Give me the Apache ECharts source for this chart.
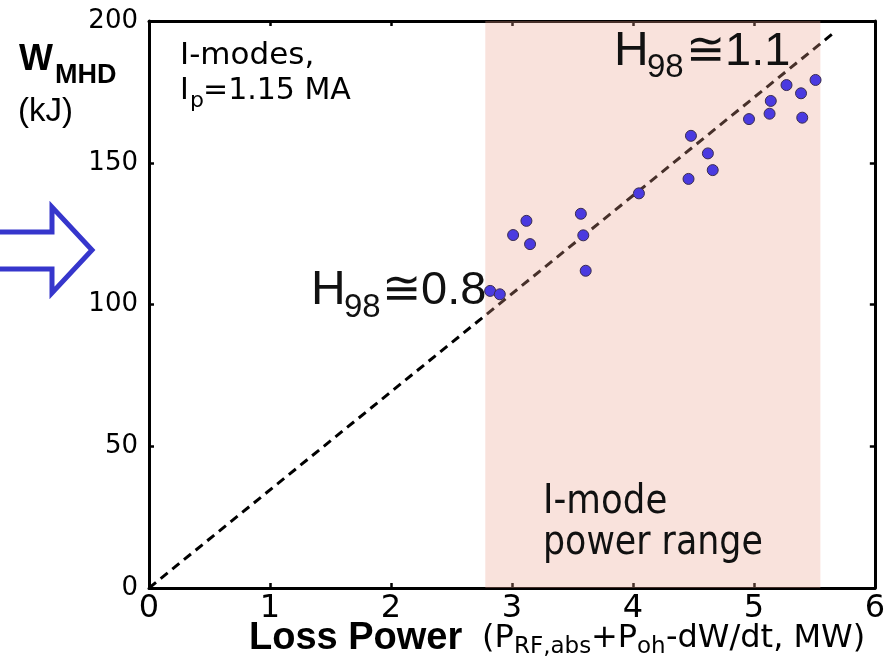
<!DOCTYPE html>
<html><head><meta charset="utf-8">
<script src="https://cdn.jsdelivr.net/npm/echarts@6/dist/echarts.min.js"></script>
<style>html,body{margin:0;padding:0;background:#fff}#c{width:888px;height:657px}</style>
</head><body><div id="c"></div>
<script>
// Data
const lossPower = [2.82, 2.90, 3.01, 3.12, 3.15, 3.57, 3.59, 3.61, 4.05, 4.46, 4.48, 4.62, 4.66, 4.96, 5.13, 5.14, 5.40, 5.27, 5.39, 5.51];
const wmhd      = [104.8, 103.6, 124.5, 129.5, 121.3, 132.0, 124.4, 111.9, 139.2, 144.3, 159.5, 153.3, 147.4, 165.4, 167.3, 171.8, 165.9, 177.4, 174.5, 179.2];
const fitX = [0, 5.68];
const fitY = [0, 196.5];
const shadeRange = [2.78, 5.55];
const xMin = 0, xMax = 6, xStep = 1;
const yMin = 0, yMax = 200, yStep = 50;

const chart = echarts.init(document.getElementById('c'));
const DV = 'DejaVu Sans';
const LS = 'Liberation Sans';
function axisCommon() {
  return {
    axisLine: {show: true, onZero: false, lineStyle: {color: '#000', width: 3}},
    axisTick: {show: true, inside: true, length: 5, lineStyle: {color: '#000', width: 2.5}},
    splitLine: {show: false}
  };
}
function txt(text, x, cy, font, size, opts) {
  opts = opts || {};
  return {
    type: 'text', z: 10, x: x, y: cy, scaleX: opts.sx || 1,
    style: {text: text, fontFamily: font, fontSize: size, fontWeight: opts.bold ? 'bold' : 'normal',
            fill: opts.fill || '#000', verticalAlign: 'middle', align: 'left'}
  };
}
chart.setOption({
  animation: false,
  backgroundColor: '#fff',
  grid: {left: 149, right: 7, top: 21, bottom: 69, containLabel: false},
  xAxis: [
    Object.assign({type: 'value', min: xMin, max: xMax, interval: xStep, position: 'bottom',
      axisLabel: {color: '#000', fontSize: 32, fontFamily: DV, margin: 5}}, axisCommon()),
    Object.assign({type: 'value', min: xMin, max: xMax, interval: xStep, position: 'top',
      axisLabel: {show: false}}, axisCommon())
  ],
  yAxis: [
    Object.assign({type: 'value', min: yMin, max: yMax, interval: yStep, position: 'left',
      axisLabel: {color: '#000', fontSize: 26, fontFamily: DV, margin: 11}}, axisCommon()),
    Object.assign({type: 'value', min: yMin, max: yMax, interval: yStep, position: 'right',
      axisLabel: {show: false}}, axisCommon())
  ],
  series: [
    {
      type: 'line', z: 2, symbol: 'none',
      data: fitX.map((x, i) => [x, fitY[i]]),
      lineStyle: {color: '#000', width: 3, type: [9, 6]}
    },
    {
      type: 'line', z: 3, symbol: 'none', data: [],
      markArea: {
        silent: true, z: 3,
        itemStyle: {color: 'rgba(235,158,138,0.3)'},
        data: [[{xAxis: shadeRange[0]}, {xAxis: shadeRange[1]}]]
      }
    },
    {
      type: 'scatter', z: 4, symbol: 'circle', symbolSize: 11,
      data: lossPower.map((x, i) => [x, wmhd[i]]),
      itemStyle: {color: '#4a3ae0', opacity: 1, borderColor: '#3a2c50', borderWidth: 1}
    }
  ],
  graphic: [
    {type: 'polyline', z: 10, shape: {points: [[-5,232],[52,232],[52,207],[92,250],[52,293],[52,269],[-5,269]]},
     style: {stroke: '#3636cc', lineWidth: 5, fill: null}},
    txt('W', 19, 60, LS, 36, {bold: true}),
    txt('MHD', 55, 76, LS, 27, {bold: true}),
    txt('(kJ)', 18, 112, LS, 33),
    txt('I-modes,', 180, 56, DV, 31),
    txt('I', 180, 91, DV, 30),
    txt('p', 190, 101, DV, 22),
    txt('=1.15 MA', 203, 91, DV, 30),
    txt('H', 614, 52, LS, 48, {fill: '#111'}),
    txt('98', 647, 68, LS, 33, {fill: '#111'}),
    txt('≅1.1', 686, 52, LS, 47, {fill: '#111'}),
    txt('H', 311, 291, LS, 48, {fill: '#111'}),
    txt('98', 344, 308, LS, 33, {fill: '#111'}),
    txt('≅0.8', 382, 291, LS, 47, {fill: '#111'}),
    txt('I-mode', 543, 503, DV, 40, {sx: 0.89, fill: '#111'}),
    txt('power range', 543, 544, DV, 40, {sx: 0.87, fill: '#111'}),
    txt('Loss Power', 249, 639, LS, 38, {bold: true}),
    txt('(P', 482, 639, DV, 32),
    txt('RF,abs', 514, 647, DV, 23),
    txt('+P', 591, 639, DV, 32),
    txt('oh', 637, 647, DV, 23),
    txt('-dW/dt, MW)', 666, 639, DV, 32)
  ]
});
</script></body></html>
